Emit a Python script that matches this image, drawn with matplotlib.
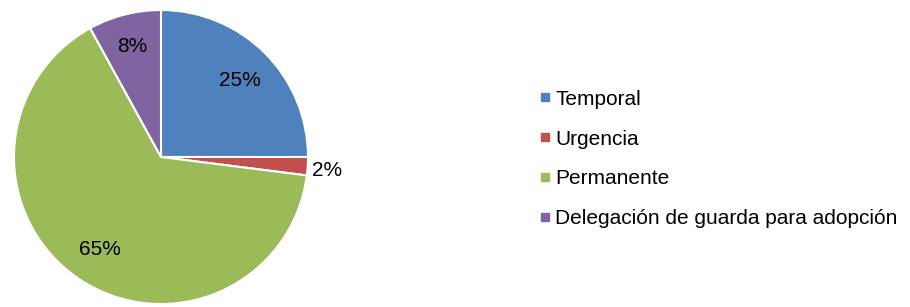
import numpy as np
import matplotlib.pyplot as plt
from matplotlib.lines import Line2D

plt.rcParams['font.family'] = ['Liberation Sans', 'DejaVu Sans']

labels = ["Temporal", "Urgencia", "Permanente", "Delegación de guarda para adopción"]
values = [25, 2, 65, 8]
pct_labels = ["25%", "2%", "65%", "8%"]
colors = ["#4F81BD", "#C0504D", "#9BBB59", "#8064A2"]

W, H = 910, 307
fig = plt.figure(figsize=(W / 100, H / 100), dpi=100)

cx, cy, r = 161, 157, 147
ax = fig.add_axes([(cx - r) / W, (H - cy - r) / H, 2 * r / W, 2 * r / H])
wedges, _ = ax.pie(values, colors=colors, startangle=90, counterclock=False,
                   radius=1, wedgeprops=dict(edgecolor="white", linewidth=1.5))
ax.set_xlim(-1, 1)
ax.set_ylim(-1, 1)

# label distances (fraction of radius)
dists = [0.76, 1.13, 0.74, 0.80]
for w, txt, d in zip(wedges, pct_labels, dists):
    ang = np.deg2rad((w.theta1 + w.theta2) / 2)
    ax.text(d * np.cos(ang), d * np.sin(ang) - 0.02, txt, ha="center", va="center",
            fontsize=15, color="black")

handles = [Line2D([], [], marker="s", linestyle="", color=c, markersize=5.5) for c in colors]
fig.legend(handles, labels, loc="center left", bbox_to_anchor=(529 / W, 1 - 159 / H),
           frameon=False, fontsize=15, handlelength=0.5, handletextpad=0.25,
           labelspacing=1.0, borderpad=0)

fig.savefig("out.png", dpi=100)
